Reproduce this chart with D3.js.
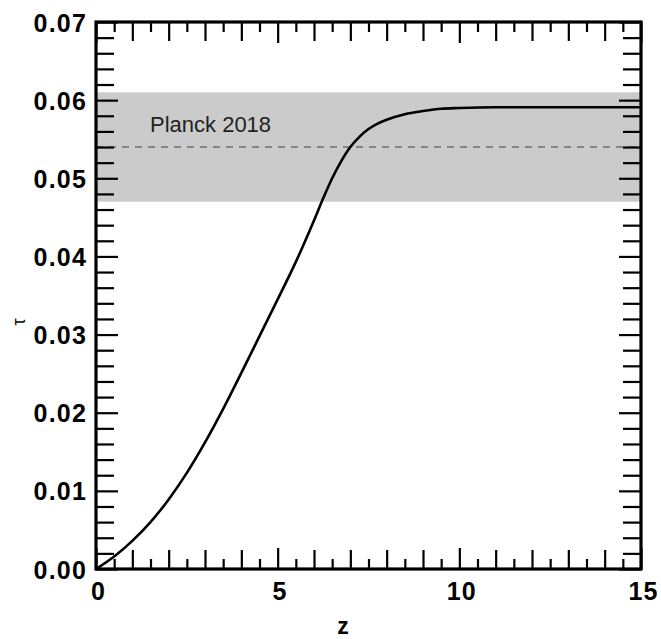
<!DOCTYPE html>
<html>
<head>
<meta charset="utf-8">
<script src="https://cdn.jsdelivr.net/npm/d3@7"></script>
<style>
  html, body { margin: 0; padding: 0; background: #fff; }
  svg { display: block; }
  text { font-family: "Liberation Sans", Arial, Helvetica, sans-serif; }
</style>
</head>
<body>
<svg id="chart" width="661" height="639"></svg>
<script>
// Cumulative Thomson optical depth vs redshift
const redshift = [0, 0.5, 1, 1.5, 2, 2.5, 3, 3.5, 4, 4.5, 5, 5.5, 6, 6.25, 6.5, 6.75, 7, 7.25, 7.5, 7.75, 8, 8.5, 9, 9.5, 10, 11, 12, 13, 14, 15];
const tau = [0, 0.0016, 0.0036, 0.0060, 0.0089, 0.0123, 0.0162, 0.0205, 0.0251, 0.0298, 0.0345, 0.0393, 0.0446, 0.0474, 0.0500, 0.0522, 0.0540, 0.0553, 0.0563, 0.0570, 0.0575, 0.0582, 0.0586, 0.0589, 0.0590, 0.0591, 0.0591, 0.0591, 0.0591, 0.0591];

// Planck 2018 constraint: tau = 0.054 +/- 0.007
const planckLabel = "Planck 2018";
const planckMean = 0.054;
const planckLow = 0.047;
const planckHigh = 0.061;

const xTickLabels = [0, 5, 10, 15];
const yTickLabels = [0, 0.01, 0.02, 0.03, 0.04, 0.05, 0.06, 0.07];
const xLabel = "z";
const yLabel = "τ";

const plotLeft = 96, plotRight = 641, plotTop = 22, plotBottom = 569;
const svg = d3.select("#chart");

const x = d3.scaleLinear().domain([0, 15]).range([plotLeft, plotRight]);
const y = d3.scaleLinear().domain([0, 0.07]).range([plotBottom, plotTop]);

// uncertainty band
svg.append("rect")
  .attr("x", x(0)).attr("width", x(15) - x(0))
  .attr("y", y(planckHigh)).attr("height", y(planckLow) - y(planckHigh))
  .attr("fill", "#cbcbcb");

// central value
svg.append("line")
  .attr("x1", x(0)).attr("x2", x(15))
  .attr("y1", y(planckMean)).attr("y2", y(planckMean))
  .attr("stroke", "#858585").attr("stroke-width", 2)
  .attr("stroke-dasharray", "7,6");

svg.append("text")
  .attr("x", 150).attr("y", 132)
  .attr("font-size", 22).attr("fill", "#222")
  .text(planckLabel);

// tau(z) curve
svg.append("defs").append("clipPath").attr("id", "plot-clip")
  .append("rect").attr("x", plotLeft).attr("y", plotTop)
  .attr("width", plotRight - plotLeft).attr("height", plotBottom - plotTop);

const line = d3.line()
  .x((d, i) => x(redshift[i]))
  .y(d => y(d))
  .curve(d3.curveMonotoneX);

svg.append("path")
  .attr("clip-path", "url(#plot-clip)")
  .attr("d", line(tau))
  .attr("fill", "none").attr("stroke", "#000").attr("stroke-width", 2.6);

// inward ticks on all four sides
const halfSteps = d3.range(0, 15.01, 0.5);
const xMinor = halfSteps.filter(v => v % 1 !== 0);
const xMajor = halfSteps.filter(v => v % 1 === 0 && v % 5 !== 0);
const yAll = d3.range(0, 36).map(i => +(i * 0.002).toFixed(3));
const yMinor = yAll.filter(v => Math.round(v * 1000) % 10 !== 0);

function tickGroup(axisFn, scale, values, size, transform) {
  const g = svg.append("g").attr("transform", transform)
    .call(axisFn(scale).tickValues(values).tickSize(-size).tickFormat(""));
  g.select(".domain").remove();
  g.selectAll("line").attr("stroke", "#000").attr("stroke-width", 2.2);
  return g;
}

[[d3.axisBottom, `translate(0,${plotBottom})`], [d3.axisTop, `translate(0,${plotTop})`]].forEach(([fn, tr]) => {
  tickGroup(fn, x, xMinor, 10, tr);
  tickGroup(fn, x, xMajor, 19, tr);
  tickGroup(fn, x, xTickLabels, 21, tr);
});
[[d3.axisLeft, `translate(${plotLeft},0)`], [d3.axisRight, `translate(${plotRight},0)`]].forEach(([fn, tr]) => {
  tickGroup(fn, y, yMinor, 18, tr);
  tickGroup(fn, y, yTickLabels, 22, tr);
});

// tick labels
const xAxis = svg.append("g").attr("transform", `translate(0,${plotBottom})`)
  .call(d3.axisBottom(x).tickValues(xTickLabels).tickSize(0).tickPadding(13).tickFormat(d3.format("d")));
xAxis.select(".domain").remove();
xAxis.selectAll("text")
  .attr("font-size", 25).attr("font-weight", "bold").attr("fill", "#000")
  .attr("font-family", "Liberation Sans, Arial, sans-serif")
  .attr("letter-spacing", 1.2).attr("dx", 2);

const yAxis = svg.append("g").attr("transform", `translate(${plotLeft},0)`)
  .call(d3.axisLeft(y).tickValues(yTickLabels).tickSize(0).tickPadding(9).tickFormat(d3.format(".2f")));
yAxis.select(".domain").remove();
yAxis.selectAll("text")
  .attr("font-size", 25).attr("font-weight", "bold").attr("fill", "#000")
  .attr("font-family", "Liberation Sans, Arial, sans-serif")
  .attr("letter-spacing", 1.2).attr("dy", "0.36em");

// frame
svg.append("rect")
  .attr("x", plotLeft).attr("y", plotTop)
  .attr("width", plotRight - plotLeft).attr("height", plotBottom - plotTop)
  .attr("fill", "none").attr("stroke", "#000").attr("stroke-width", 3.2);

// axis titles
svg.append("text")
  .attr("x", 343).attr("y", 634)
  .attr("text-anchor", "middle")
  .attr("font-size", 23).attr("font-weight", "bold")
  .text(xLabel);

svg.append("text")
  .attr("transform", "translate(25,322) rotate(-90)")
  .attr("text-anchor", "middle")
  .attr("font-size", 18)
  .text(yLabel);
</script>
</body>
</html>
